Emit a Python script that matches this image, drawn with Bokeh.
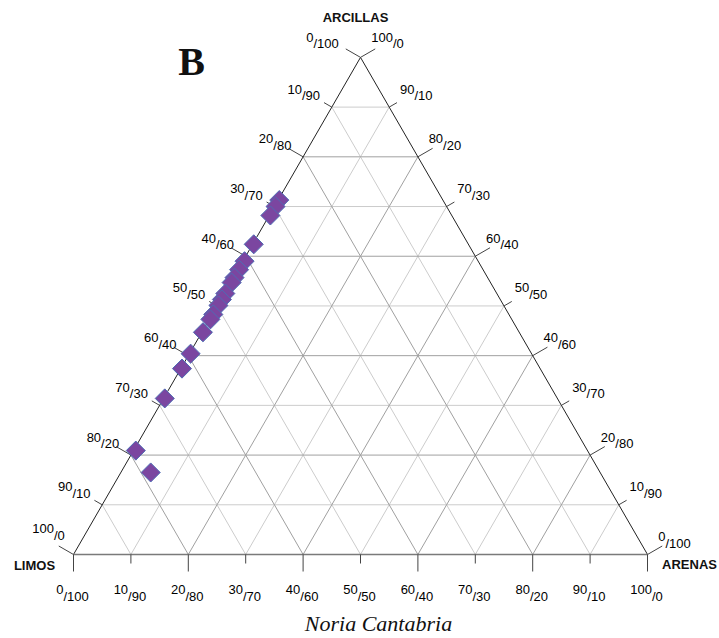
import numpy as np
from bokeh.plotting import figure
from bokeh.models import Range1d, ColumnDataSource
from bokeh.embed import file_html
from bokeh.resources import INLINE
from bokeh.core.properties import value

# ---- data (percentages) ----
arcillas = [71.3, 70.0, 68.2, 62.4, 59.0, 57.3, 55.7, 54.7, 52.5, 51.3,
            50.1, 48.3, 47.3, 44.7, 40.4, 37.4, 31.4, 20.9, 16.5]
arenas = [0.2, 0.2, 0.2, 0.2, 0.3, 0.2, 0.2, 0.2, 0.2, 0.2,
          0.2, 0.2, 0.2, 0.2, 0.2, 0.2, 0.2, 0.4, 5.2]
limos = [round(100 - a - s, 1) for a, s in zip(arcillas, arenas)]

grid_levels = [0, 10, 20, 30, 40, 50, 60, 70, 80, 90, 100]
bottom_labels = ["0/100", "10/90", "20/80", "30/70", "40/60", "50/50",
                 "60/40", "70/30", "80/20", "90/10", "100/0"]          # arenas/limos
left_labels = ["100/0", "90/10", "80/20", "70/30", "60/40", "50/50",
               "40/60", "30/70", "20/80", "10/90", "0/100"]           # limos/arcillas
right_labels = ["0/100", "10/90", "20/80", "30/70", "40/60", "50/50",
                "60/40", "70/30", "80/20", "90/10", "100/0"]         # arcillas/arenas
vertex_names = ["ARCILLAS", "LIMOS", "ARENAS"]
title = "B"
subtitle = "Noria Cantabria"

S3 = np.sqrt(3) / 2
SC = 5.74  # px per unit
OX, OY = 73, 554  # pixel position of the LIMOS vertex
W_, H_ = 719, 638


def tern(clay, sand):
    return sand + clay / 2.0, clay * S3


def px2data(px, py):
    return (px - OX) / SC, (OY - py) / SC


x0, y1 = px2data(0, 0)
x1, y0 = px2data(W_, H_)
p = figure(width=W_, height=H_, output_backend="svg", toolbar_location=None,
           x_range=Range1d(x0, x1), y_range=Range1d(y0, y1),
           x_axis_type=None, y_axis_type=None, min_border=0)
p.grid.visible = False
p.outline_line_color = None
p.background_fill_color = "white"
p.border_fill_color = "white"

# ---- grid lines ----
gx = {"even": [], "odd": []}
gy = {"even": [], "odd": []}
for c in grid_levels[1:-1]:
    key = "even" if c % 20 == 0 else "odd"
    a0, b0 = tern(c, 0); a1, b1 = tern(c, 100 - c)
    gx[key].append([a0, a1]); gy[key].append([b0, b1])
    a0, b0 = tern(0, c); a1, b1 = tern(100 - c, c)
    gx[key].append([a0, a1]); gy[key].append([b0, b1])
    a0, b0 = tern(0, 100 - c); a1, b1 = tern(100 - c, 0)
    gx[key].append([a0, a1]); gy[key].append([b0, b1])
p.multi_line(gx["odd"], gy["odd"], line_color="#cccccc", line_width=1)
p.multi_line(gx["even"], gy["even"], line_color="#a0a0a0", line_width=1)

# ---- edges ----
T = tern(100, 0); L = tern(0, 0); R = tern(0, 100)
p.line([L[0], T[0]], [L[1], T[1]], line_color="#222222", line_width=1)
p.line([R[0], T[0]], [R[1], T[1]], line_color="#222222", line_width=1)
p.line([L[0], R[0]], [L[1], R[1]], line_color="#7a7a7a", line_width=1.6)

# ---- ticks ----
txs, tys = [], []
for i, c in enumerate(grid_levels):
    ln = (17 if c % 20 == 0 else 9) / SC
    bx, by = tern(0, c)
    txs.append([bx, bx]); tys.append([by, by - ln])
    lx, ly = tern(c, 0)
    txs.append([lx, lx - ln * S3]); tys.append([ly, ly + ln * 0.5])
    rx, ry = tern(c, 100 - c)
    txs.append([rx, rx + ln * S3]); tys.append([ry, ry + ln * 0.5])
p.multi_line(txs, tys, line_color="#444444", line_width=1)

# ---- tick labels (superscript / subscript style) ----
FS = 13
DIG, SL = 0.556 * FS, 0.278 * FS
cx_l, cy_l, sup_t, sub_t, sup_off, sub_off = [], [], [], [], [], []


def add_label(lbl, x, y):
    a, b = lbl.split("/")
    wa = len(a) * DIG
    W = wa + SL + len(b) * DIG
    cx_l.append(x); cy_l.append(y)
    sup_t.append(a); sub_t.append("/" + b)
    sup_off.append(-W / 2); sub_off.append(-W / 2 + wa)


for i, c in enumerate(grid_levels):
    bx, by = tern(0, c)
    add_label(bottom_labels[i], bx - 1 / SC, by - 38 / SC)
    lx, ly = tern(c, 0)
    if c == 100:
        dx, dy = -38, -17
    elif c == 0:
        dx, dy = -25, -23
    else:
        dx, dy = -28, -15
    add_label(left_labels[i], lx + dx / SC, ly - dy / SC)
    rx, ry = tern(c, 100 - c)
    dx, dy = (27, -17) if c == 100 else (27, -15)
    add_label(right_labels[i], rx + dx / SC, ry - dy / SC)

src = ColumnDataSource(dict(x=cx_l, y=cy_l, a=sup_t, b=sub_t, oa=sup_off, ob=sub_off))
p.text("x", "y", text="a", source=src, x_offset="oa", y_offset=-3,
       text_align="left", text_baseline="middle", text_font=value("Liberation Sans"),
       text_font_size=f"{FS}px", text_color="#000000")
p.text("x", "y", text="b", source=src, x_offset="ob", y_offset=3.5,
       text_align="left", text_baseline="middle", text_font=value("Liberation Sans"),
       text_font_size=f"{FS}px", text_color="#000000")

# ---- vertex names ----
vx, vy = zip(px2data(355, 17), px2data(34, 565), px2data(689, 564))
p.text(list(vx), list(vy), text=vertex_names, text_align="center", text_baseline="middle",
       text_font=value("Liberation Sans"), text_font_style="bold", text_font_size="13px",
       text_color="#111111")

# ---- titles ----
bx, by = px2data(191, 61)
p.text([bx], [by], text=[title], text_align="center", text_baseline="middle",
       text_font=value("Liberation Serif"), text_font_style="bold", text_font_size="40px",
       text_color="#111111")
nx, ny = px2data(378, 623)
p.text([nx], [ny], text=[subtitle], text_align="center", text_baseline="middle",
       text_font=value("Liberation Serif"), text_font_style="italic", text_font_size="22px",
       text_color="#111111")

# ---- data points ----
px_, py_ = [], []
for a, s in zip(arcillas, arenas):
    x, y = tern(a, s)
    px_.append(x); py_.append(y)
p.scatter(px_, py_, marker="square", angle=np.pi / 4, size=13.5,
          fill_color="#7b46a0", line_color="#4e6cb4", line_width=1)

open("out.html", "w").write(file_html(p, INLINE))
